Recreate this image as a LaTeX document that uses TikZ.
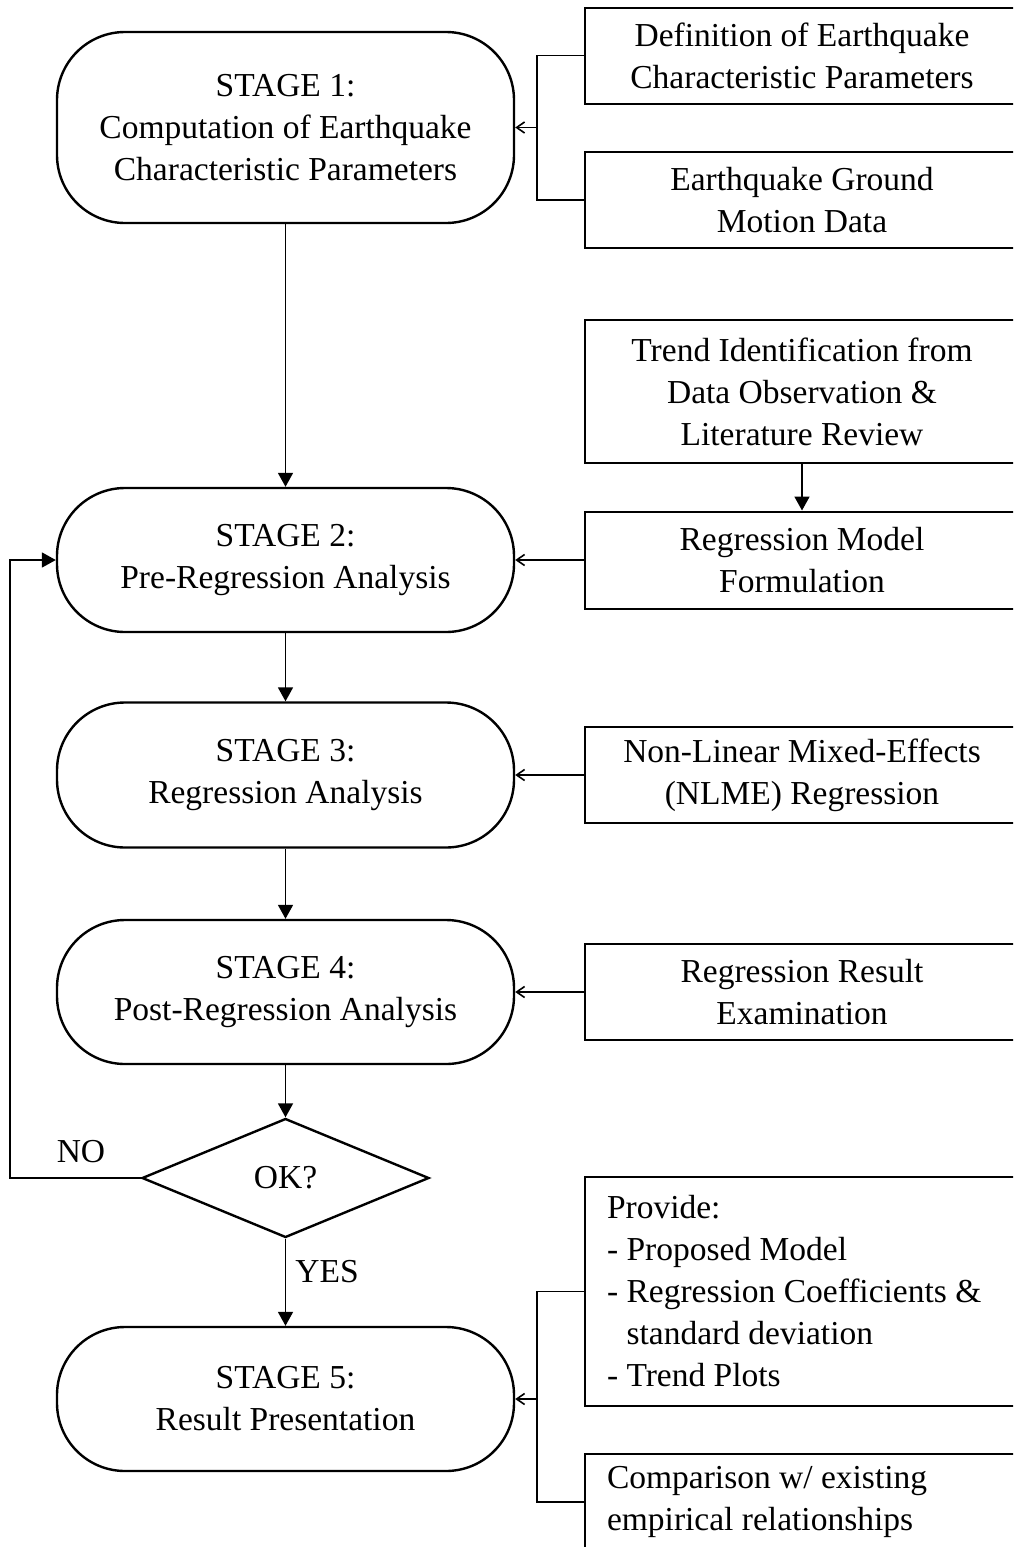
\documentclass[tikz,border=0pt]{standalone}
\usepackage{fontspec}
\setmainfont{Liberation Serif}
\usetikzlibrary{arrows.meta,shapes.geometric}
\begin{document}
\begin{tikzpicture}[x=1pt,y=-1pt,
  every node/.style={font=\fontsize{33.5}{42}\selectfont},
  stagebox/.style={draw,line width=2.4pt,rounded corners=68pt,minimum width=457pt,align=center,inner sep=0pt},
  infobox/.style={draw,line width=2pt,minimum width=434pt,align=center,inner sep=0pt},
  listbox/.style={draw,line width=2pt,text width=390pt,inner xsep=22pt,inner ysep=0pt,align=flush left},
  decision/.style={draw,diamond,line width=2.4pt,minimum width=287pt,minimum height=119pt,inner sep=0pt,shape aspect=2.41},
  flow/.style={line width=1.8pt,-{Triangle[length=14pt,width=15pt]}},
  feed/.style={line width=1.6pt,-{Straight Barb[length=8pt,width=11pt,line width=1.6pt]}},
  link/.style={line width=1.6pt},
  lbl/.style={inner sep=0pt}
]
\useasboundingbox (0,0) rectangle (1013,1547);
\clip (0,0) rectangle (1013,1547);

% stages
\node[stagebox,minimum height=191pt] (s1) at (285.5,127.5) {STAGE 1:\\Computation of Earthquake\\Characteristic Parameters};
\node[stagebox,minimum height=144pt] (s2) at (285.5,560) {STAGE 2:\\Pre-Regression Analysis};
\node[stagebox,minimum height=145pt] (s3) at (285.5,775) {STAGE 3:\\Regression Analysis};
\node[stagebox,minimum height=144pt] (s4) at (285.5,992) {STAGE 4:\\Post-Regression Analysis};
\node[decision] (dia) at (285.5,1178) {OK?};
\node[stagebox,minimum height=144pt] (s5) at (285.5,1399) {STAGE 5:\\Result Presentation};

% right boxes
\node[infobox,minimum height=96pt] (a) at (802,55.5) {Definition of Earthquake\\Characteristic Parameters};
\node[infobox,minimum height=96pt] (b) at (802,200) {Earthquake Ground\\Motion Data};
\node[infobox,minimum height=143pt] (t) at (802,391.5) {Trend Identification from\\Data Observation \&\\Literature Review};
\node[infobox,minimum height=97pt] (r) at (802,560) {Regression Model\\Formulation};
\node[infobox,minimum height=96pt] (n) at (802,775) {Non-Linear Mixed-Effects\\(NLME) Regression};
\node[infobox,minimum height=96pt] (e) at (802,992) {Regression Result\\Examination};
\node[listbox,minimum height=229pt] (p) at (802,1291.5) {Provide:\\- Proposed Model\\- Regression Coefficients \&\\\hphantom{- }standard deviation\\- Trend Plots};
\node[listbox,minimum height=96pt] (c) at (802,1502) {Comparison w/ existing\\empirical relationships};

% labels
\node[lbl] (no) at (81,1152) {NO};
\node[lbl] (yes) at (327,1272) {YES};

% coordinates
\coordinate (j1) at (537,127.5);
\coordinate (j5) at (537,1399);
\coordinate (lp) at (10,1178);

% main flow
\draw[flow] (s1.south) -- (s2.north);
\draw[flow] (s2.south) -- (s3.north);
\draw[flow] (s3.south) -- (s4.north);
\draw[flow] (s4.south) -- (dia.north);
\draw[flow] (dia.south) -- (s5.north);
\draw[flow] (dia.west) -- (lp) |- (s2.west);
\draw[flow] (t.south) -- (r.north);

% feeds
\draw[link] (a.west) -| (j1) |- (b.west);
\draw[feed] (j1) -- (s1.east);
\draw[feed] (r.west) -- (s2.east);
\draw[feed] (n.west) -- (s3.east);
\draw[feed] (e.west) -- (s4.east);
\draw[link] (p.west) -| (j5) |- (c.west);
\draw[feed] (j5) -- (s5.east);
\end{tikzpicture}
\end{document}
